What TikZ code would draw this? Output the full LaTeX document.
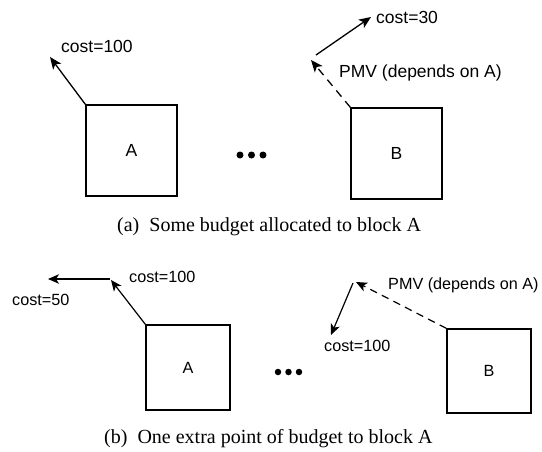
\documentclass[tikz,border=0pt]{standalone}
\usepackage{fontspec}
\setmainfont{Liberation Serif}
\setsansfont{Liberation Sans}
\usetikzlibrary{arrows.meta}
\begin{document}
\begin{tikzpicture}[x=1pt,y=-1pt,
  blk/.style={draw,line width=1.3pt,inner sep=0pt,font=\sffamily\fontsize{17.5}{20}\selectfont},
  blksm/.style={blk,font=\sffamily\fontsize{16.2}{19}\selectfont},
  lbl/.style={inner sep=0pt,anchor=base west,font=\sffamily\fontsize{17.5}{20}\selectfont},
  lblsm/.style={lbl,font=\sffamily\fontsize{16.2}{19}\selectfont},
  captxt/.style={inner sep=0pt,anchor=base west,font=\fontsize{20}{24}\selectfont},
  arr/.style={line width=1.3pt,-{Stealth[length=12pt,width=10pt,inset=3pt]}},
  arrsm/.style={line width=1.2pt,-{Stealth[length=11pt,width=9.5pt,inset=3pt]}},
  darr/.style={arr,dash pattern=on 8pt off 6pt},
  darrsm/.style={arrsm,dash pattern=on 7.5pt off 5.5pt},
  dotc/.style={circle,fill,inner sep=0pt,minimum size=7pt}]
\useasboundingbox (0,0) rectangle (542,451);
% ---------- panel (a)
\node[blk,minimum width=91pt,minimum height=91pt] (A1) at (131.5,150.5) {A};
\node[blk,minimum width=91pt,minimum height=91pt] (B1) at (396.5,153.5) {B};
\node[dotc] (d11) at (240,155) {};
\node[dotc] (d12) at (251.5,155) {};
\node[dotc] (d13) at (263,155) {};
\coordinate (a1t) at (50,57);
\draw[arr] (A1.north west) -- (a1t);
\node[lbl] (c1) at (61,52) {cost=100};
\coordinate (b1t) at (311,60);
\coordinate (b1s) at (316,55);
\coordinate (b1e) at (371,17);
\draw[darr] (B1.north west) -- (b1t);
\draw[arr] (b1s) -- (b1e);
\node[lbl] (c2) at (376,23) {cost=30};
\node[lbl] (p1) at (339,77) {PMV (depends on A)};
\node[captxt] (capa) at (117,231) {(a)~~Some budget allocated to block A};
% ---------- panel (b)
\node[blksm,minimum width=84pt,minimum height=85pt] (A2) at (188,367.5) {A};
\node[blksm,minimum width=84pt,minimum height=84pt] (B2) at (489,371) {B};
\node[dotc,minimum size=6.5pt] (d21) at (278,372) {};
\node[dotc,minimum size=6.5pt] (d22) at (288.5,372) {};
\node[dotc,minimum size=6.5pt] (d23) at (299,372) {};
\coordinate (a2t) at (111,280);
\coordinate (a2s) at (110,279);
\coordinate (a2e) at (48,279);
\draw[arrsm] (A2.north west) -- (a2t);
\draw[arrsm] (a2s) -- (a2e);
\node[lblsm] (c3) at (129,282) {cost=100};
\node[lblsm] (c4) at (12,305) {cost=50};
\coordinate (b2t) at (356,282);
\coordinate (b2s) at (353,283);
\coordinate (b2e) at (331,335);
\draw[darrsm] (B2.north west) -- (b2t);
\draw[arrsm] (b2s) -- (b2e);
\node[lblsm] (p2) at (388,289) {PMV (depends on A)};
\node[lblsm] (c5) at (324,351) {cost=100};
\node[captxt] (capb) at (104,443) {(b)~~One extra point of budget to block A};
\end{tikzpicture}
\end{document}
